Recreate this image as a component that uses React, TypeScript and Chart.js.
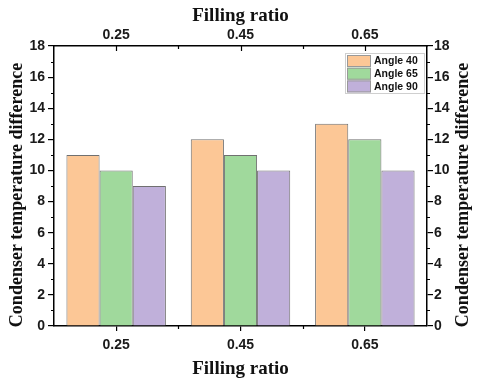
import React, { useEffect, useRef } from "react";
import { Chart, registerables } from "chart.js";

Chart.register(...registerables);

const categories = ["0.25", "0.45", "0.65"];
const seriesLabels = ["Angle 40", "Angle 65", "Angle 90"];
const angle40 = [11, 12, 13];
const angle65 = [10, 11, 12];
const angle90 = [9, 10, 10];
const seriesColors = ["#FCC796", "#A0D99C", "#C0B0DA"];
const yMin = 0;
const yMax = 18;
const yStep = 2;
const xTitle = "Filling ratio";
const yTitle = "Condenser temperature difference";

const tickFont = { family: "Liberation Sans, Arial, sans-serif", size: 14, weight: "bold" as const };
const titleFont = { family: "Liberation Serif, Times New Roman, serif", size: 19, weight: "bold" as const };

const extrasPlugin = {
  id: "extras",
  afterDraw(chart: any) {
    const ctx = chart.ctx;
    const { left, right, top, bottom } = chart.chartArea;
    const y = chart.scales.y;
    const x = chart.scales.x;
    ctx.save();
    ctx.strokeStyle = "#000";
    ctx.lineWidth = 1.2;
    // minor y ticks
    for (let v = yMin + 1; v < yMax; v += 2) {
      const py = Math.round(y.getPixelForValue(v)) + 0.5;
      ctx.beginPath();
      ctx.moveTo(left - 3, py);
      ctx.lineTo(left, py);
      ctx.moveTo(right, py);
      ctx.lineTo(right + 3, py);
      ctx.stroke();
    }
    // top major ticks inward
    for (let i = 0; i < categories.length; i++) {
      const px = Math.round(x.getPixelForValue(i)) + 0.5;
      ctx.beginPath();
      ctx.moveTo(px, top);
      ctx.lineTo(px, top + 5);
      ctx.stroke();
    }
    // minor x ticks between categories
    for (let i = 0; i < categories.length - 1; i++) {
      const px = Math.round(x.getPixelForValue(i + 0.5)) + 0.5;
      ctx.beginPath();
      ctx.moveTo(px, top);
      ctx.lineTo(px, top + 3);
      ctx.moveTo(px, bottom);
      ctx.lineTo(px, bottom + 3);
      ctx.stroke();
    }
    // y titles (both read bottom to top)
    ctx.fillStyle = "#111";
    ctx.font = "bold 18px Liberation Serif, Times New Roman, serif";
    ctx.textAlign = "center";
    ctx.textBaseline = "middle";
    const cy = (top + bottom) / 2 + 9;
    [17, chart.width - 17].forEach((cx) => {
      ctx.save();
      ctx.translate(cx, cy);
      ctx.rotate(-Math.PI / 2);
      ctx.fillText(yTitle, 0, 0);
      ctx.restore();
    });
    // legend
    const bw = 79;
    const bh = 40;
    const bx = right - 3 - bw;
    const by = top + 7;
    ctx.fillStyle = "#fff";
    ctx.fillRect(bx, by, bw, bh);
    ctx.strokeStyle = "#cfcfcf";
    ctx.lineWidth = 1;
    ctx.strokeRect(bx + 0.5, by + 0.5, bw, bh);
    ctx.font = "bold 10.5px Liberation Sans, Arial, sans-serif";
    ctx.textBaseline = "middle";
    ctx.textAlign = "left";
    chart.data.datasets.forEach((ds: any, i: number) => {
      const sy = by + 2 + i * 12.7;
      ctx.fillStyle = ds.backgroundColor;
      ctx.fillRect(bx + 2, sy, 24, 12);
      ctx.strokeStyle = "#999";
      ctx.strokeRect(bx + 2.5, sy + 0.5, 23, 11);
      ctx.fillStyle = "#111";
      ctx.fillText(ds.label, bx + 29, sy + 6.5);
    });
    ctx.restore();
  },
};

export default function App() {
  const ref = useRef<HTMLCanvasElement>(null);
  useEffect(() => {
    document.body.style.margin = "0";
    const values = [angle40, angle65, angle90];
    const chart = new Chart(ref.current!, {
      type: "bar",
      data: {
        labels: categories,
        datasets: seriesLabels.map((label, i) => ({
          label,
          data: values[i],
          backgroundColor: seriesColors[i],
          borderColor: "#707070",
          borderWidth: 1,
          categoryPercentage: 0.8,
          barPercentage: 1,
        })),
      },
      options: {
        animation: false,
        responsive: false,
        maintainAspectRatio: false,
        layout: { padding: 0 },
        plugins: { legend: { display: false }, tooltip: { enabled: false } },
        scales: {
          x: {
            type: "category",
            position: "bottom",
            offset: true,
            grid: { offset: false, drawOnChartArea: false, tickLength: 5, color: "#000", lineWidth: 1.2 },
            border: { display: true, color: "#000", width: 1.5 },
            ticks: { font: tickFont, color: "#1a1a1a", padding: 6 },
            title: { display: true, text: xTitle, font: titleFont, color: "#111", padding: { top: 0, bottom: 5 } },
            afterFit: (s: any) => { s.height = 59; },
          },
          x2: {
            type: "category",
            position: "top",
            offset: true,
            grid: { offset: false, drawOnChartArea: false, drawTicks: false },
            border: { display: true, color: "#000", width: 1.5 },
            ticks: { font: tickFont, color: "#1a1a1a", padding: 2 },
            title: { display: true, text: xTitle, font: titleFont, color: "#111", padding: { top: 5, bottom: 0 } },
            afterFit: (s: any) => { s.height = 46; },
          },
          y: {
            type: "linear",
            position: "left",
            min: yMin,
            max: yMax,
            ticks: { stepSize: yStep, font: tickFont, color: "#1a1a1a", padding: 3 },
            grid: { drawOnChartArea: false, tickLength: 6, color: "#000", lineWidth: 1.2 },
            border: { display: true, color: "#000", width: 1.5 },
            title: { display: false },
            afterFit: (s: any) => { s.width = 54; },
          },
          y2: {
            type: "linear",
            position: "right",
            min: yMin,
            max: yMax,
            ticks: { stepSize: yStep, font: tickFont, color: "#1a1a1a", padding: 1 },
            grid: { drawOnChartArea: false, tickLength: 6, color: "#000", lineWidth: 1.2 },
            border: { display: true, color: "#000", width: 1.5 },
            title: { display: false },
            afterFit: (s: any) => { s.width = 53; },
          },
        },
      },
      plugins: [extrasPlugin],
    });
    return () => chart.destroy();
  }, []);
  return (
    <div style={{ position: "absolute", left: 0, top: 0, width: 480, height: 385, background: "#fff" }}>
      <canvas ref={ref} width={480} height={385} />
    </div>
  );
}
